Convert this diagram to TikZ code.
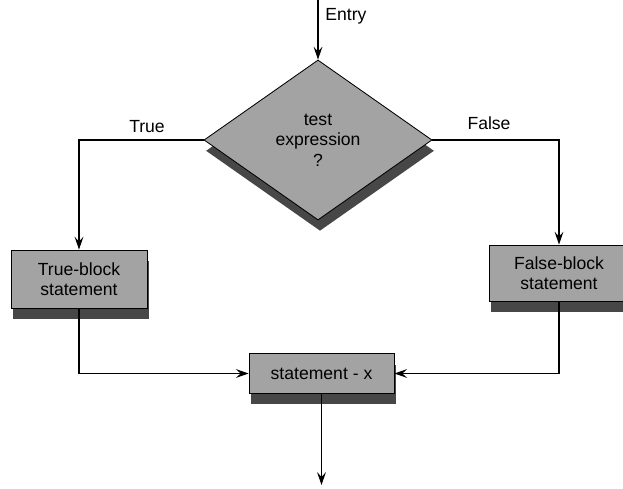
\documentclass[tikz,border=0pt]{standalone}
\usepackage{fontspec}
\setmainfont{Liberation Sans}
\usetikzlibrary{shapes.geometric,shadows,arrows.meta}

\begin{document}
\begin{tikzpicture}[x=0.025cm, y=0.025cm,
  font=\fontsize{12.5}{14.5}\selectfont,
  blk/.style={draw, line width=0.6pt, fill=black!36, align=center, inner sep=0pt,
    drop shadow={shadow xshift=0.05cm, shadow yshift=-0.27cm, fill=black!72, opacity=1}},
  flow/.style={line width=0.9pt, -{Stealth[length=3.2mm, width=2.2mm, inset=1.2mm]}}]
%\draw[help lines] (0,0) grid[step=50] (623,488);
\useasboundingbox (0,0) rectangle (623,488);

 \coordinate (entry) at (318,488);
 \coordinate (exit) at (321.5,3);

 \node[blk, diamond, minimum width=5.7cm, minimum height=4cm] (test) at (318,348) {test\\expression\\?};

 \node[blk, minimum width=3.4cm, minimum height=1.45cm] (trueblk) at (79,209) {True-block\\statement};
 \node[blk, minimum width=3.5cm, minimum height=1.4cm] (falseblk) at (559,215) {False-block\\statement};
 \node[blk, minimum width=3.62cm, minimum height=0.98cm] (stmt) at (321.5,114.5) {statement - x};

 \node (entrylbl) at (346,472) {Entry};
 \node (truelbl) at (147,361) {True};
 \node (falselbl) at (489,365) {False};

 \draw[flow] (entry) -- (test.north);
 \draw[flow] (test.west) -| (trueblk.north);
 \draw[flow] (test.east) -| (falseblk.north);
 \draw[flow] (trueblk.south) |- (stmt.west);
 \draw[flow] (falseblk.south) |- (stmt.east);
 \draw[flow] (stmt.south) -- (exit);

\end{tikzpicture}
\end{document}
